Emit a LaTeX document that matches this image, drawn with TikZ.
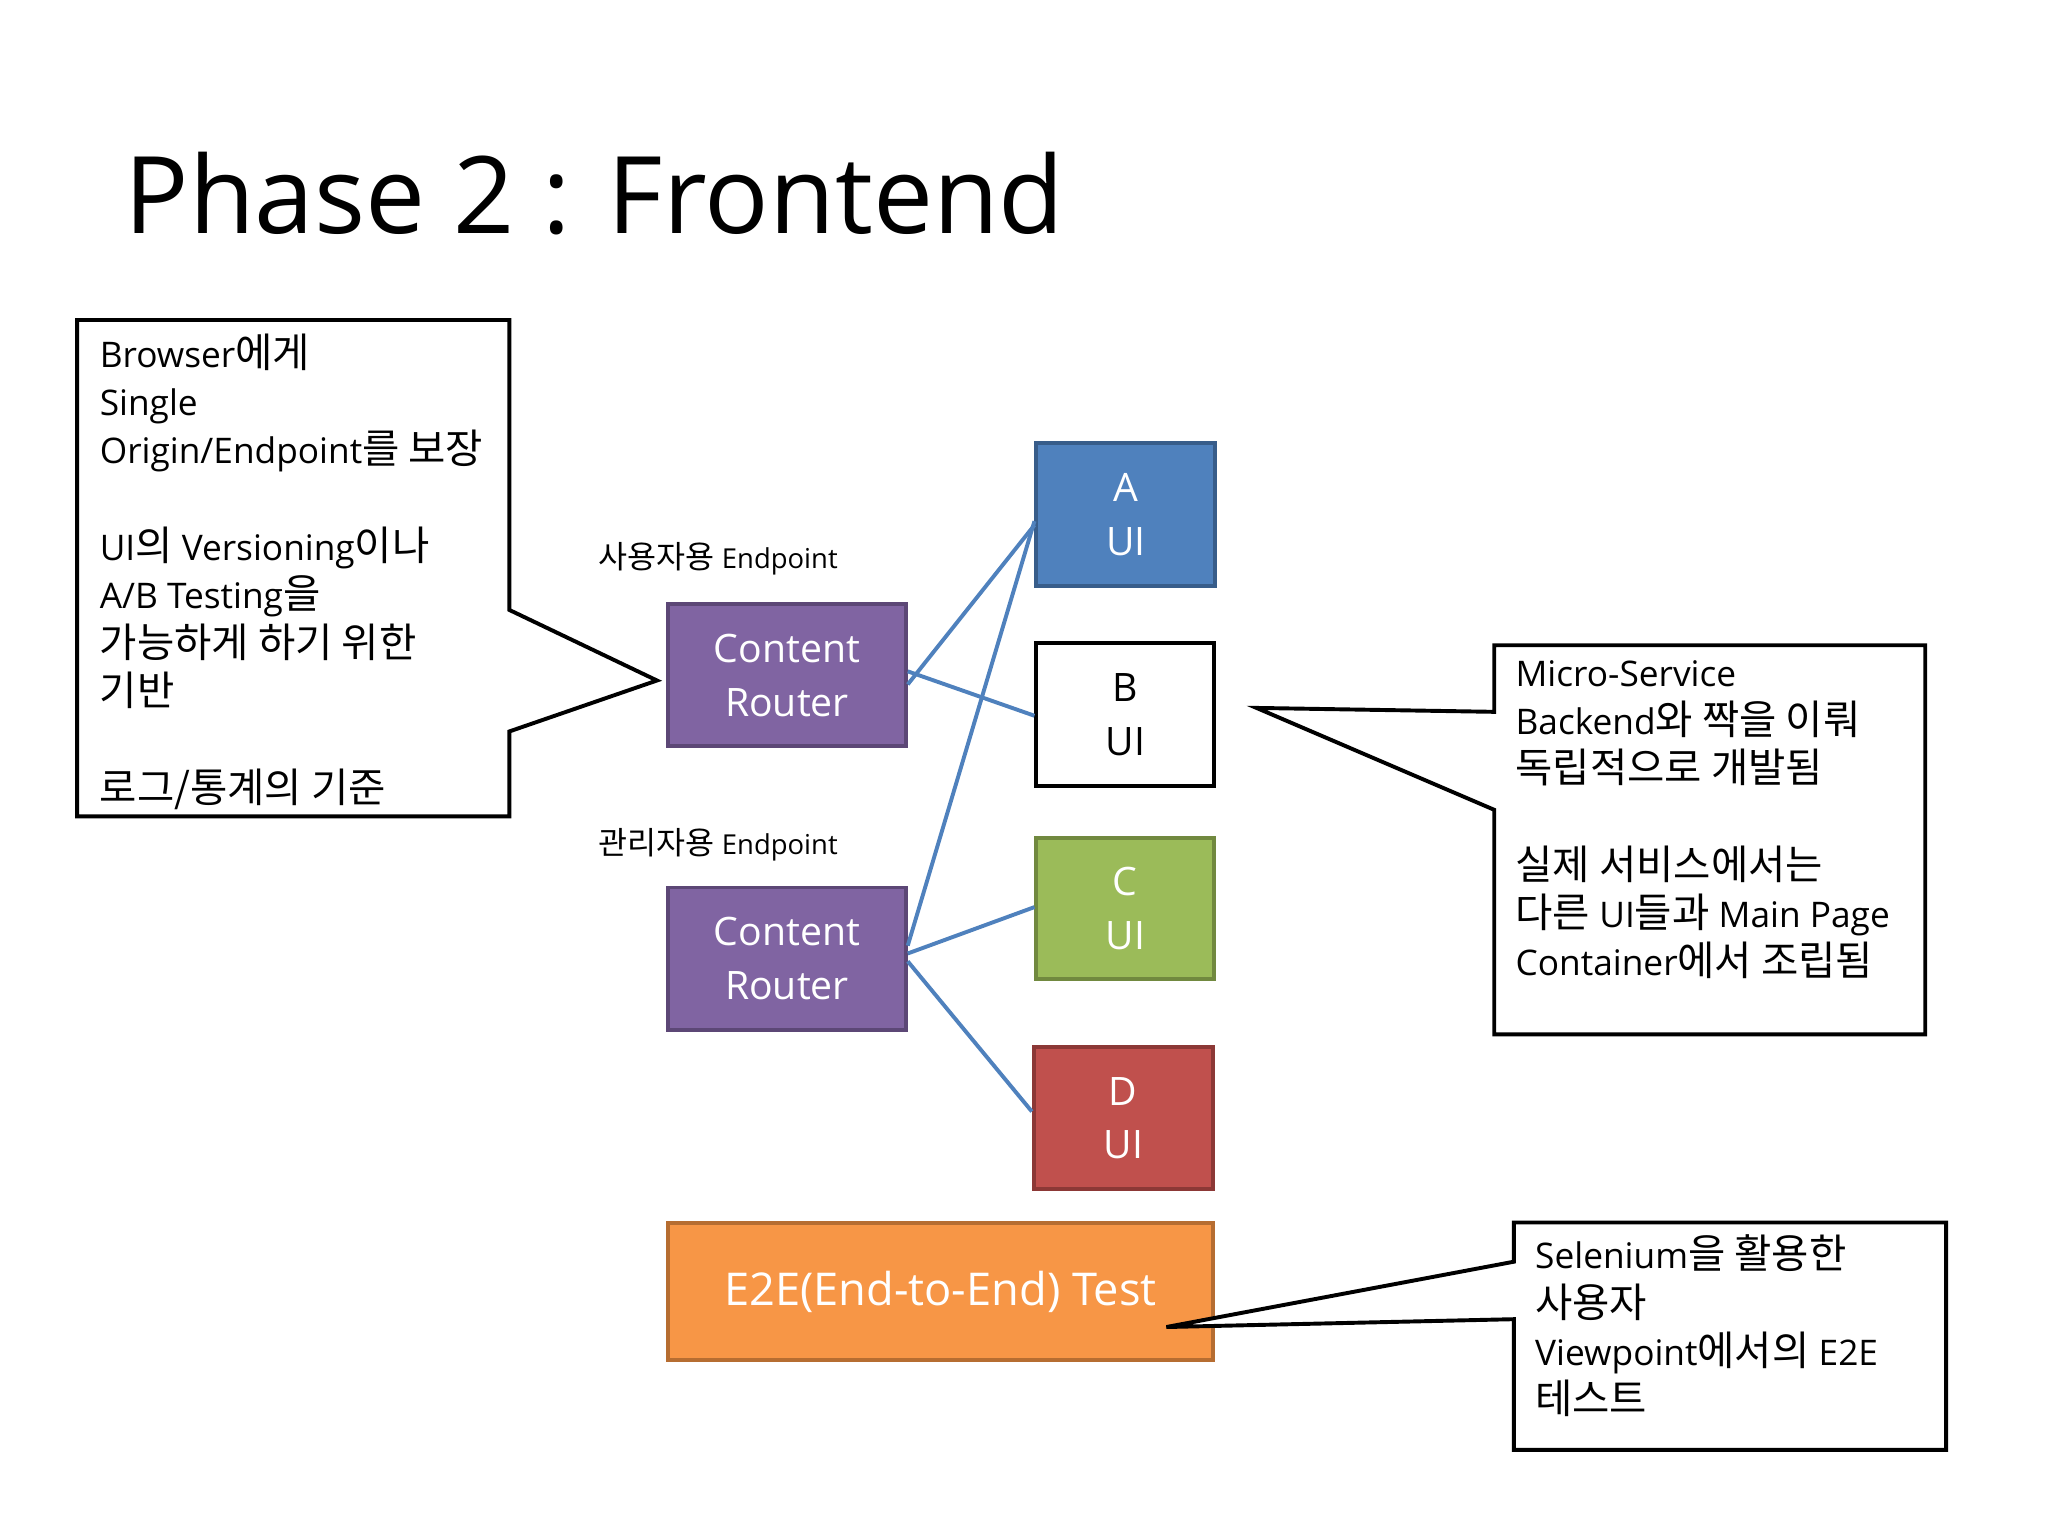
\documentclass[tikz,border=0pt]{standalone}
\usepackage{fontspec}
\setmainfont{Open Sans}
\newfontfamily\kr[Scale=1.15]{Noto Sans CJK KR}
\usetikzlibrary{calc}
\definecolor{cblue}{HTML}{4F81BD}\definecolor{cblueb}{HTML}{385D8A}
\definecolor{cpur}{HTML}{8064A2}\definecolor{cpurb}{HTML}{5C4776}
\definecolor{cgrn}{HTML}{9BBB59}\definecolor{cgrnb}{HTML}{71893F}
\definecolor{cred}{HTML}{C0504D}\definecolor{credb}{HTML}{8C3836}
\definecolor{corg}{HTML}{F79646}\definecolor{corgb}{HTML}{B66D31}
\tikzset{
 bx/.style={draw,line width=1.5pt,anchor=north west,align=center,font=\fontsize{15}{20.5}\selectfont,text=white,inner sep=0pt},
 ctext/.style={anchor=north west,align=left,font=\fontsize{13.5}{18.5}\selectfont,inner sep=0pt},
 call/.style={draw,line width=1.5pt,fill=white},
 link/.style={draw=cblue,line width=1.5pt},
 lbl/.style={font=\fontsize{10.5}{13}\selectfont,anchor=west,inner sep=0pt}
}
\begin{document}
\begin{tikzpicture}[x=0.5pt,y=-0.5pt]
\useasboundingbox (0,0) rectangle (1568,1176);
\node[anchor=west,inner sep=0pt,font=\fontsize{41}{50}\selectfont] (title) at (95,148) {Phase 2 : Frontend};
% left callout
\draw[call] (59,245) -- (390,245) -- (390,467) -- (503,521) -- (390,560) -- (390,625) -- (59,625) -- cycle;
\node[ctext] (lt) at (76,255) {Browser{\kr 에게}\\Single\\Origin/Endpoint{\kr 를 보장}\\[18.5pt]UI{\kr 의} Versioning{\kr 이나}\\A/B Testing{\kr 을}\\{\kr 가능하게 하기 위한}\\{\kr 기반}\\[18.5pt]{\kr 로그/통계의 기준}};
% right callout
\draw[call] (1144,494) -- (1474,494) -- (1474,792) -- (1144,792) -- (1144,620) -- (962,542) -- (1144,545) -- cycle;
\node[ctext] (rt) at (1160,505) {Micro-Service\\Backend{\kr 와 짝을 이뤄}\\{\kr 독립적으로 개발됨}\\[18.5pt]{\kr 실제 서비스에서는}\\{\kr 다른} UI{\kr 들과} Main Page\\Container{\kr 에서 조립됨}};
% labels
\node[lbl] (l1) at (458,428) {{\kr 사용자용} Endpoint};
\node[lbl] (l2) at (458,647) {{\kr 관리자용} Endpoint};
% boxes
\node[bx,fill=cpur,draw=cpurb,minimum width=91pt,minimum height=54.5pt] (r1) at (510,461) {Content\\Router};
\node[bx,fill=cpur,draw=cpurb,minimum width=91pt,minimum height=54.5pt] (r2) at (510,678) {Content\\Router};
\node[bx,fill=cblue,draw=cblueb,minimum width=68.5pt,minimum height=54.5pt] (a) at (792,338) {A\\UI};
\node[bx,fill=white,draw=black,text=black,minimum width=68pt,minimum height=54.5pt] (b) at (792,491) {B\\UI};
\node[bx,fill=cgrn,draw=cgrnb,minimum width=68pt,minimum height=54pt] (c) at (792,640) {C\\UI};
\node[bx,fill=cred,draw=credb,minimum width=68.5pt,minimum height=54.5pt] (d) at (790,800) {D\\UI};
\node[bx,fill=corg,draw=corgb,minimum width=208.5pt,minimum height=52.5pt,font=\fontsize{17.3}{20}\selectfont] (e) at (510,935) {E2E(End-to-End) Test};
% bottom callout (over the E2E box)
\draw[call] (1159,936) -- (1490,936) -- (1490,1110) -- (1159,1110) -- (1159,1010) -- (893,1016) -- (1159,966) -- cycle;
\node[ctext] (bt) at (1175,945) {Selenium{\kr 을 활용한}\\{\kr 사용자}\\Viewpoint{\kr 에서의} E2E\\{\kr 테스트}};
% links
\draw[link] ($(r1.east)+(0,7)$) -- ($(a.west)+(0,8)$);
\draw[link] ($(r1.east)+(0,-3)$) -- ($(b.west)+(0,1)$);
\draw[link] ($(r2.east)+(0,-10)$) -- ($(a.west)+(0,5)$);
\draw[link] ($(r2.east)+(0,-4)$) -- ($(c.west)+(0,-1)$);
\draw[link] ($(r2.east)+(0,2)$) -- ($(d.west)+(0,-5)$);
\end{tikzpicture}
\end{document}
